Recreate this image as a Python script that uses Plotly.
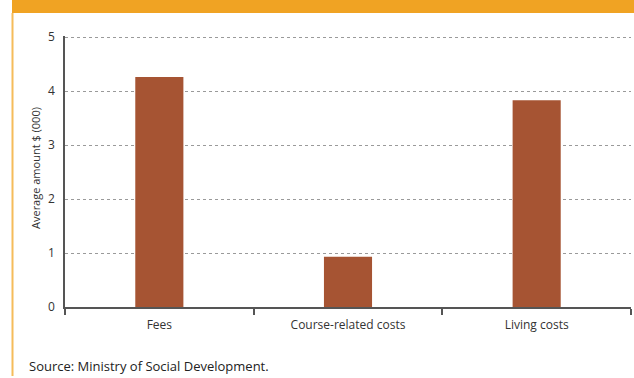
import plotly.graph_objects as go

# Average cost per student, by type of cost ($000)
categories = ["Fees", "Course-related costs", "Living costs"]
amounts = [4.26, 0.93, 3.83]
y_ticks = [0, 1, 2, 3, 4, 5]

W, H = 634, 378
L, R, T, B = 65, 3, 36, 71
pw, ph = W - L - R, H - T - B


def px_x(x):
    return (x - L) / pw


def px_y(y):
    return (H - B - y) / ph


FONT = "Open Sans, Noto Sans, sans-serif"
AXIS = "#555555"

fig = go.Figure(
    go.Bar(
        x=categories,
        y=amounts,
        marker=dict(color="#A65433", line=dict(width=0)),
        width=0.255,
        hoverinfo="x+y",
    )
)

fig.update_layout(
    width=W,
    height=H,
    margin=dict(l=L, r=R, t=T, b=B),
    paper_bgcolor="white",
    plot_bgcolor="white",
    showlegend=False,
    font=dict(family=FONT, size=12, color="#333333"),
    xaxis=dict(
        range=[-0.5, 2.5],
        showgrid=False,
        showline=True,
        linecolor=AXIS,
        linewidth=1.5,
        ticks="outside",
        tickson="boundaries",
        ticklen=6,
        tickwidth=1.5,
        tickcolor=AXIS,
        ticklabelstandoff=6,
        tickfont=dict(size=12, color="#333333"),
        zeroline=False,
        fixedrange=True,
    ),
    yaxis=dict(
        # a little headroom above 5 so the top gridline is kept
        range=[0, 5.02],
        tickvals=y_ticks,
        showgrid=True,
        gridcolor="#9a9a9a",
        gridwidth=1,
        griddash="dot",
        showline=True,
        linecolor=AXIS,
        linewidth=1.5,
        ticks="",
        ticklabelstandoff=6,
        tickfont=dict(size=12, color="#333333"),
        zeroline=False,
        fixedrange=True,
    ),
    shapes=[
        # header band
        dict(type="rect", xref="paper", yref="paper",
             x0=px_x(12), x1=px_x(W + 2), y0=px_y(13), y1=px_y(-2),
             fillcolor="#F0A323", line=dict(width=0), layer="above"),
        # left frame rule
        dict(type="line", xref="paper", yref="paper",
             x0=px_x(12.5), x1=px_x(12.5), y0=px_y(13), y1=px_y(376),
             line=dict(color="#F5BC5A", width=2)),
    ],
    annotations=[
        dict(text="Average amount $ (000)", xref="paper", yref="paper",
             x=px_x(35), y=px_y(168), textangle=-90, showarrow=False,
             xanchor="center", yanchor="middle",
             font=dict(size=11, color="#333333", family=FONT)),
        dict(text="Source: Ministry of Social Development.", xref="paper", yref="paper",
             x=px_x(27), y=px_y(366), showarrow=False,
             xanchor="left", yanchor="middle",
             font=dict(size=13, color="#222222", family=FONT)),
    ],
)

fig.write_html("out.html")
